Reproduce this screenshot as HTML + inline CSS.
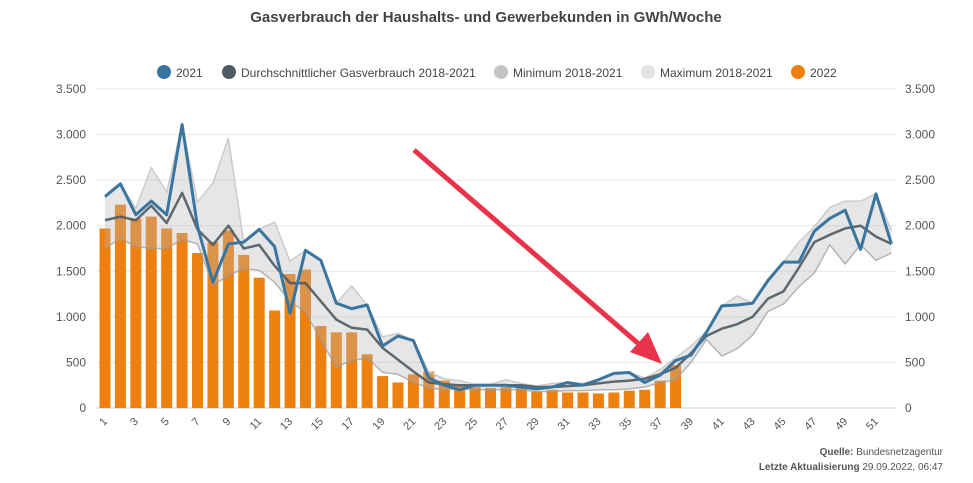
<!DOCTYPE html>
<html><head><meta charset="utf-8"><style>
body{margin:0;background:#fff;width:973px;height:478px;overflow:hidden;font-family:"Liberation Sans",Arial,sans-serif}
svg text{font-family:"Liberation Sans",Arial,sans-serif}
</style></head><body>
<svg id="c" width="973" height="478">
<text x="486" y="22" text-anchor="middle" font-size="15" font-weight="bold" fill="#444">Gasverbrauch der Haushalts- und Gewerbekunden in GWh/Woche</text>
<g>
<g><circle cx="164" cy="72" r="7" fill="#3a75a0"/><text x="176" y="77" font-size="12" fill="#444">2021</text></g>
<g><circle cx="229" cy="72" r="7" fill="#4f5a62"/><text x="241" y="77" font-size="12" fill="#444">Durchschnittlicher Gasverbrauch 2018-2021</text></g>
<g><circle cx="501" cy="72" r="7" fill="#c4c4c4"/><text x="513" y="77" font-size="12" fill="#444">Minimum 2018-2021</text></g>
<g><circle cx="648" cy="72" r="7" fill="#e2e2e2"/><text x="660" y="77" font-size="12" fill="#444">Maximum 2018-2021</text></g>
<g><circle cx="798" cy="72" r="7" fill="#ee8010"/><text x="810" y="77" font-size="12" fill="#444">2022</text></g>
</g>
<g id="grid"></g><g id="bars"></g><g id="band"></g><g id="lines"></g><g id="axes"></g>
<g>
<line x1="414" y1="150" x2="640" y2="345" stroke="#e8334a" stroke-width="5"/>
<polygon points="662,364 630,352 648,332" fill="#e8334a"/>
</g>
<text x="943" y="455" text-anchor="end" font-size="10" fill="#555"><tspan font-weight="bold">Quelle:</tspan> Bundesnetzagentur</text>
<text x="943" y="470" text-anchor="end" font-size="10" fill="#555"><tspan font-weight="bold">Letzte Aktualisierung</tspan> 29.09.2022, 06:47</text>
</svg>
<script>
const weeks=[];for(let i=1;i<=52;i++)weeks.push(i);
const yTicks=[0,500,1000,1500,2000,2500,3000,3500];
const yTickLabels=["0","500","1.000","1.500","2.000","2.500","3.000","3.500"];
const v2022=[1970,2230,2080,2100,1970,1920,1700,1820,1950,1680,1430,1070,1470,1520,900,830,830,590,350,280,370,400,300,250,230,220,230,250,180,200,170,170,160,170,190,200,300,470];
const v2021=[2320,2460,2120,2270,2120,3110,1990,1380,1800,1820,1960,1770,1040,1730,1620,1150,1090,1130,680,790,740,330,250,200,250,250,250,230,210,230,280,250,310,380,390,280,360,520,580,830,1120,1130,1150,1400,1600,1600,1940,2080,2170,1740,2350,1800];
const vAvg=[2060,2100,2060,2220,2030,2360,1960,1790,2000,1750,1790,1560,1370,1370,1170,970,880,860,660,530,400,280,260,250,250,250,250,250,230,230,240,250,270,290,300,320,370,440,600,790,870,920,1000,1200,1280,1540,1820,1900,1970,2000,1880,1800];
const vMin=[1750,1860,1770,1750,1750,1850,1800,1350,1450,1530,1510,1380,1170,1050,740,450,520,550,390,370,280,220,200,210,200,200,200,200,180,180,190,190,200,200,210,230,280,310,500,750,570,650,800,1060,1140,1330,1480,1790,1580,1790,1620,1700];
const vMax=[2320,2460,2190,2640,2370,3110,2260,2470,2960,1820,1960,2040,1610,1730,1620,1150,1340,1130,780,820,740,400,320,300,260,260,310,270,240,270,280,270,310,380,390,330,420,550,680,840,1120,1230,1150,1400,1600,1820,1990,2200,2270,2270,2350,1950];
const NS='http://www.w3.org/2000/svg';
const L=97,R=897,Y0=408,Y1=89;
const x=w=>105+(w-1)*15.42;
const y=v=>Y0-(v/3500)*(Y0-Y1);
function mk(t,a,p){const e=document.createElementNS(NS,t);for(const k in a)e.setAttribute(k,a[k]);p.appendChild(e);return e;}
const grid=document.getElementById('grid'),axes=document.getElementById('axes');
yTicks.forEach((t,i)=>{
 const g=mk('line',{x1:L,x2:R,y1:y(t),y2:y(t),stroke:t===0?'#ccc':'#e6e6e6','stroke-width':1},grid);
 
 
 const a=mk('text',{x:86,y:y(t)+4,'text-anchor':'end','font-size':12,fill:'#555'},axes);a.textContent=yTickLabels[i];
 
 
 const b=mk('text',{x:905,y:y(t)+4,'font-size':12,fill:'#555'},axes);b.textContent=yTickLabels[i];
 
 
});
weeks.forEach(w=>{if(w%2===1){const t=mk('text',{x:x(w)+3,y:422,'text-anchor':'end','font-size':11,fill:'#555',transform:`rotate(-45 ${x(w)+3} 422)`},axes);t.textContent=w;
 
 }});
const bars=document.getElementById('bars');
v2022.forEach((v,i)=>{const r=mk('rect',{x:x(i+1)-5.5,y:y(v),width:11,height:Y0-y(v),fill:'#ee8010'},bars);
 
 });
const band=document.getElementById('band');
let pts=weeks.map((w,i)=>x(w)+','+y(vMax[i])).concat(weeks.slice().reverse().map(w=>x(w)+','+y(vMin[w-1])));
const bp=mk('polygon',{points:pts.join(' '),fill:'#b8b8b8','fill-opacity':0.35},band);


const lines=document.getElementById('lines');
function line(arr,col,w,name,op){const p=mk('polyline',{points:arr.map((v,i)=>x(i+1)+','+y(v)).join(' '),fill:'none',stroke:col,'stroke-width':w,'stroke-linejoin':'round','stroke-opacity':op},lines);
 
 }
line(vMax,'#c8c8c8',1.5,'line-maximum',0.9);
line(vMin,'#9a9a9a',1.5,'line-minimum',0.7);
line(vAvg,'#4f5a62',2.5,'line-average',0.9);
line(v2021,'#3a75a0',3,'line-2021',1);
</script>
</body></html>
